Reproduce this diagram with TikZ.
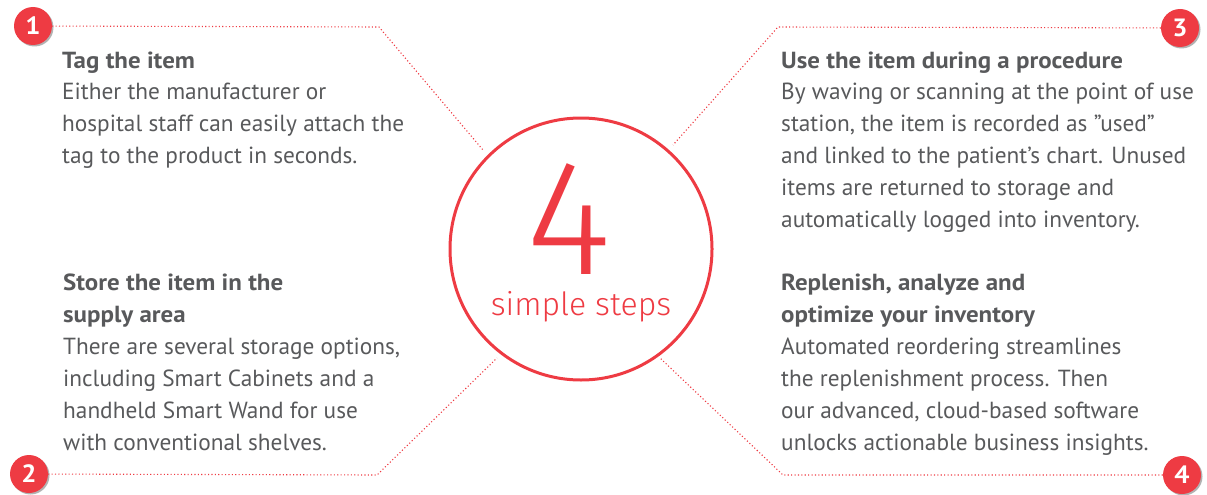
\documentclass[tikz,border=0pt]{standalone}
\usepackage{fontspec}
\setmainfont{PT Sans}[BoldFeatures={FakeStretch=1.07}]
\newfontfamily\thinfont{Fira Sans}[UprightFont=* Light]
\usetikzlibrary{shadows}
\definecolor{accent}{HTML}{EE3B43}
\definecolor{txt}{HTML}{58595B}
\tikzset{
  badge/.style={circle, fill=accent, minimum size=38pt, inner sep=0pt, text=white,
    font=\bfseries\fontsize{25}{25}\selectfont,
    drop shadow={shadow xshift=1.5pt, shadow yshift=-1.5pt, opacity=0.3, fill=black}},
  dotline/.style={draw=accent, line width=1.1pt, dash pattern=on 1.1pt off 2.3pt},
  block/.style={anchor=base west, inner sep=0pt, text=txt, font=\fontsize{23.3}{32}\selectfont},
  ring/.style={circle, draw=accent, line width=3pt, minimum size=262pt, inner sep=0pt}
}
\begin{document}
\begin{tikzpicture}[x=1pt,y=-1pt]
\useasboundingbox (0,0) rectangle (1207,495);
% centre ring
\node[ring] (c) at (581,249) {};
\node[anchor=base, inner sep=0pt, text=accent, font=\thinfont\fontsize{164}{164}\selectfont] (four) at (569,274) {4};
\node[anchor=base, inner sep=0pt, text=accent, font=\thinfont\fontsize{32}{32}\selectfont] (simple) at (581,315) {simple steps};
% badges
\node[badge] (b1) at (33,26) {1};
\node[badge] (b2) at (29,474) {2};
\node[badge] (b3) at (1180,28) {3};
\node[badge] (b4) at (1182,475) {4};
% corners and ends
\coordinate (k1) at (379,27);
\coordinate (e1) at (483,150);
\coordinate (k2) at (377,475);
\coordinate (e2) at (497,358);
\coordinate (k3) at (778,27);
\coordinate (e3) at (673,145);
\coordinate (k4) at (783,475);
\coordinate (e4) at (660,358);
\draw[dotline] (b1) -- (k1) -- (e1);
\draw[dotline] (b2) -- (k2) -- (e2);
\draw[dotline] (b3) -- (k3) -- (e3);
\draw[dotline] (b4) -- (k4) -- (e4);
% text blocks
\node[block] (t1) at (62,68) {\begin{tabular}[t]{@{}l@{}}\textbf{Tag the item}\\
Either the manufacturer or\\
hospital staff can easily attach the\\
tag to the product in seconds.\end{tabular}};
\node[block] (t2) at (63,290) {\begin{tabular}[t]{@{}l@{}}\textbf{Store the item in the}\\
\textbf{supply area}\\
There are several storage options,\\
including Smart Cabinets and a\\
handheld Smart Wand for use\\
with conventional shelves.\end{tabular}};
\node[block] (t3) at (781,68) {\begin{tabular}[t]{@{}l@{}}\textbf{Use the item during a procedure}\\
By waving or scanning at the point of use\\
station, the item is recorded as ”used”\\
and linked to the patient’s chart. Unused\\
items are returned to storage and\\
automatically logged into inventory.\end{tabular}};
\node[block] (t4) at (781,290) {\begin{tabular}[t]{@{}l@{}}\textbf{Replenish, analyze and}\\
\textbf{optimize your inventory}\\
Automated reordering streamlines\\
the replenishment process. Then\\
our advanced, cloud-based software\\
unlocks actionable business insights.\end{tabular}};
\end{tikzpicture}
\end{document}
